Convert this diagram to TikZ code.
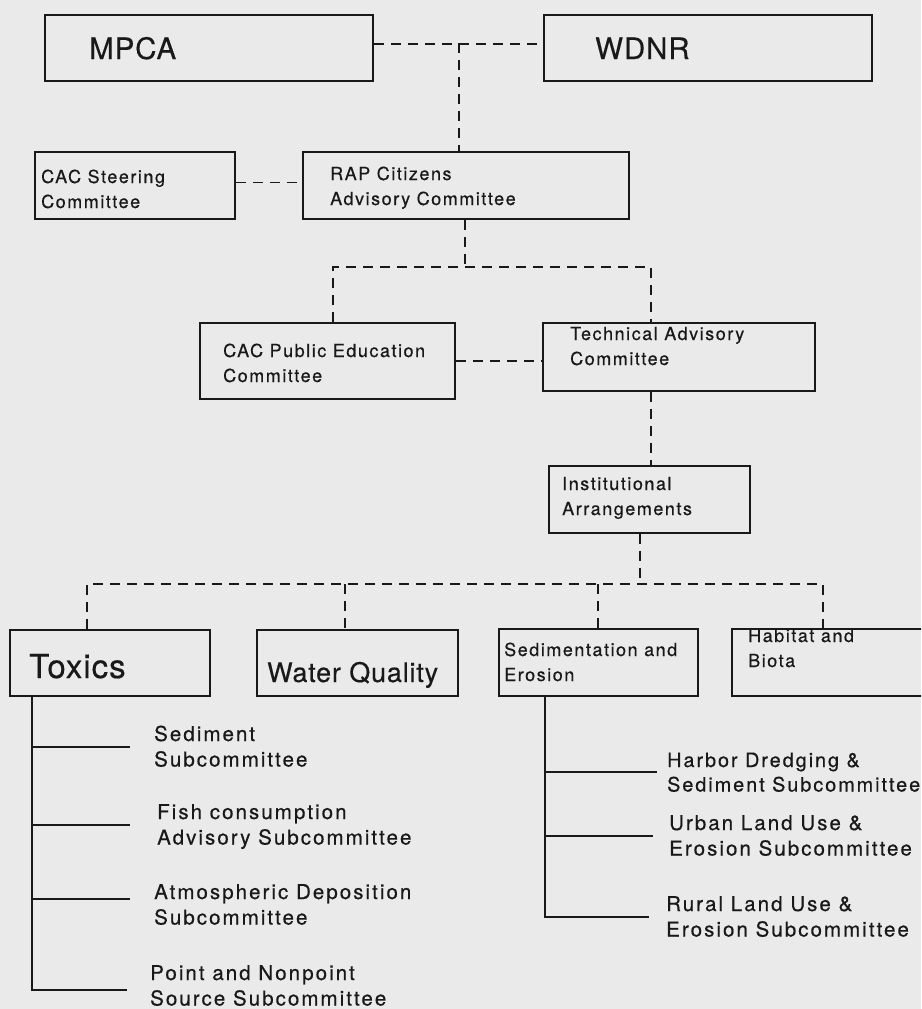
\documentclass[tikz,border=0pt]{standalone}
\usepackage{fontspec}
\newfontfamily\smallf[LetterSpace=10,FakeBold=0.5]{TeX Gyre Heros}
\newfontfamily\boxf[LetterSpace=8.5,FakeBold=0.5]{TeX Gyre Heros}
\newfontfamily\bigf[LetterSpace=3,FakeBold=0.4]{TeX Gyre Heros}
\definecolor{bg}{RGB}{234,234,234}
\definecolor{ink}{RGB}{25,25,25}
\newcommand\twol[2]{\begin{tabular}[t]{@{}l@{}}#1\\#2\end{tabular}}
\begin{document}
\begin{tikzpicture}[x=1pt,y=-1pt,
  box/.style={draw=ink, line width=1.8pt, inner sep=0pt, anchor=north west},
  blbl/.style={anchor=base west, inner sep=0pt, text=ink, font=\boxf\fontsize{18}{25}\selectfont},
  lbl/.style={anchor=base west, inner sep=0pt, text=ink, font=\smallf\fontsize{20.5}{25.5}\selectfont},
  big/.style={anchor=base west, inner sep=0pt, text=ink},
  dsh/.style={draw=ink, line width=1.7pt, dash pattern=on 10pt off 7pt},
  sol/.style={draw=ink, line width=1.8pt}]
\fill[bg] (0,0) rectangle (921,1009);
\useasboundingbox (0,0) rectangle (921,1009);
\clip (0,0) rectangle (921,1009);

% boxes
\node[box, minimum width=328pt, minimum height=66pt] (mpca) at (44,14) {};
\node[box, minimum width=328pt, minimum height=66pt] (wdnr) at (543,14) {};
\node[box, minimum width=200pt, minimum height=67pt] (cacs) at (34,151) {};
\node[box, minimum width=326pt, minimum height=67pt] (rap) at (302,151) {};
\node[box, minimum width=255pt, minimum height=76pt] (cacp) at (199,322) {};
\node[box, minimum width=272pt, minimum height=68pt] (tac) at (542,322) {};
\node[box, minimum width=201pt, minimum height=67pt] (inst) at (548,465) {};
\node[box, minimum width=200pt, minimum height=66pt] (tox) at (9,629) {};
\node[box, minimum width=201pt, minimum height=66pt] (wq) at (256,629) {};
\node[box, minimum width=199pt, minimum height=67pt] (sed) at (498,628) {};
\node[box, minimum width=230pt, minimum height=67pt] (hab) at (731,628) {};

% box texts
\node[big, font=\bigf\fontsize{29.5}{34}\selectfont] (tmpca) at (89,59) {MPCA};
\node[big, font=\bigf\fontsize{29.5}{34}\selectfont] (twdnr) at (595,59) {WDNR};
\node[blbl] (tcacs) at (41,183) {\twol{CAC Steering}{Committee}};
\node[blbl] (trap) at (330,180) {\twol{RAP Citizens}{Advisory Committee}};
\node[blbl] (tcacp) at (223,357) {\twol{CAC Public Education}{Committee}};
\node[blbl] (ttac) at (570,340) {\twol{Technical Advisory}{Committee}};
\node[blbl] (tinst) at (562,490) {\twol{Institutional}{Arrangements}};
\node[big, font=\bigf\fontsize{33}{38}\selectfont] (ttox) at (29,678) {Toxics};
\node[big, font=\bigf\fontsize{27}{32}\selectfont] (twq) at (267,682) {Water Quality};
\node[blbl] (tsed) at (504,656) {\twol{Sedimentation and}{Erosion}};
\node[blbl] (thab) at (748,642) {\twol{Habitat and}{Biota}};

% subcommittee texts
\node[lbl] (s1) at (154,741) {\twol{Sediment}{Subcommittee}};
\node[lbl] (s2) at (157,819) {\twol{Fish consumption}{Advisory Subcommittee}};
\node[lbl] (s3) at (154,899) {\twol{Atmospheric Deposition}{Subcommittee}};
\node[lbl] (s4) at (150,980) {\twol{Point and Nonpoint}{Source Subcommittee}};
\node[lbl, font=\smallf\fontsize{19.8}{24.5}\selectfont] (e1) at (667,767) {\twol{Harbor Dredging \&}{Sediment Subcommittee}};
\node[lbl] (e2) at (669,830) {\twol{Urban Land Use \&}{Erosion Subcommittee}};
\node[lbl] (e3) at (666,911) {\twol{Rural Land Use \&}{Erosion Subcommittee}};

% dashed connectors
\coordinate (j1) at (459,43);
\draw[dsh] ([yshift=4pt]mpca.east) -- ([yshift=4pt]wdnr.west);
\draw[dsh] (j1) -- (j1 |- rap.north);
\draw[dsh] ([yshift=3pt]cacs.east) -- ([yshift=3pt]rap.west);
\coordinate (j2) at (465,267);
\coordinate (j3) at (333,267);
\coordinate (j4) at (651,267);
\draw[dsh] (j2 |- rap.south) -- (j2);
\draw[dsh] (j3 |- cacp.north) -- (j3) -- (j4) -- (j4 |- tac.north);
\draw[dsh] (cacp.east) -- (cacp.east -| tac.west);
\draw[dsh] (j4 |- tac.south) -- (j4 |- inst.north);
\coordinate (b0) at (640,584);
\coordinate (bl) at (87,584);
\coordinate (br) at (823,584);
\coordinate (bw) at (345,584);
\coordinate (bs) at (598,584);
\draw[dsh] (b0 |- inst.south) -- (b0);
\draw[dsh] (bl |- tox.north) -- (bl) -- (br) -- (br |- hab.north);
\draw[dsh] (bw) -- (bw |- wq.north);
\draw[dsh] (bs) -- (bs |- sed.north);

% toxics tree
\coordinate (tx) at (32,0);
\coordinate (ta) at (130,747);
\coordinate (tb) at (130,825);
\coordinate (tc) at (130,899);
\coordinate (td) at (127,990);
\draw[sol] (tx |- tox.south) -- (tx |- td) -- (td);
\draw[sol] (tx |- ta) -- (ta);
\draw[sol] (tx |- tb) -- (tb);
\draw[sol] (tx |- tc) -- (tc);

% sedimentation tree
\coordinate (sx) at (545,0);
\coordinate (sa) at (657,772);
\coordinate (sb) at (653,836);
\coordinate (sc) at (649,917);
\draw[sol] (sx |- sed.south) -- (sx |- sc) -- (sc);
\draw[sol] (sx |- sa) -- (sa);
\draw[sol] (sx |- sb) -- (sb);
\end{tikzpicture}
\end{document}
